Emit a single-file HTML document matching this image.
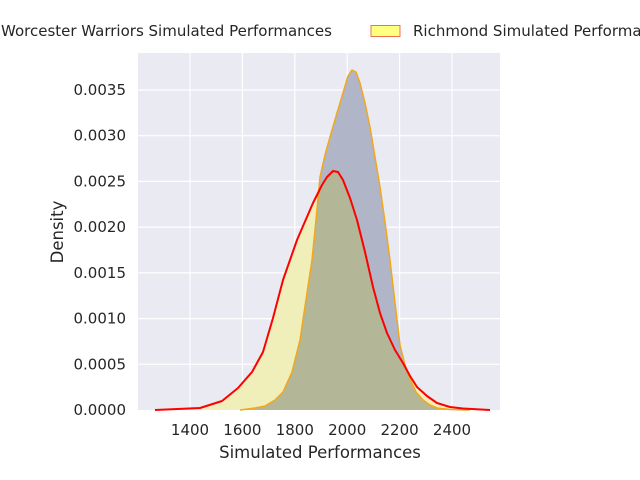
<!DOCTYPE html>
<html><head><style>body{margin:0;background:#fff}svg{display:block}text{font-family:"DejaVu Sans","Liberation Sans",sans-serif;fill:#262626}</style></head>
<body>
<svg width="640" height="480" viewBox="0 0 640 480">
<defs>
<clipPath id="cy"><path d="M155,410 L200,408 L222,401 L238,388 L252,372 L263,352 L273,318 L283,280 L297,240 L313,203 L322,185 L327,177 L333,171 L338,172 L343,180 L350,198 L357,220 L365,252 L373,287 L380,313 L387,333 L395,350 L403,363 L410,376 L417,387 L427,396 L437,403 L450,407 L463,408.5 L490,410 Z"/></clipPath>
</defs>
<rect x="138" y="53" width="362" height="357" fill="#eaeaf2"/>
<g stroke="#fff" stroke-width="1.2">
<line x1="190" y1="53" x2="190" y2="410"/><line x1="242.4" y1="53" x2="242.4" y2="410"/><line x1="294.8" y1="53" x2="294.8" y2="410"/><line x1="347.2" y1="53" x2="347.2" y2="410"/><line x1="399.6" y1="53" x2="399.6" y2="410"/><line x1="452" y1="53" x2="452" y2="410"/>
<line x1="138" y1="364.3" x2="500" y2="364.3"/><line x1="138" y1="318.6" x2="500" y2="318.6"/><line x1="138" y1="272.9" x2="500" y2="272.9"/><line x1="138" y1="227.1" x2="500" y2="227.1"/><line x1="138" y1="181.4" x2="500" y2="181.4"/><line x1="138" y1="135.7" x2="500" y2="135.7"/><line x1="138" y1="90" x2="500" y2="90"/>
</g>
<path d="M155,410 L200,408 L222,401 L238,388 L252,372 L263,352 L273,318 L283,280 L297,240 L313,203 L322,185 L327,177 L333,171 L338,172 L343,180 L350,198 L357,220 L365,252 L373,287 L380,313 L387,333 L395,350 L403,363 L410,376 L417,387 L427,396 L437,403 L450,407 L463,408.5 L490,410 Z" fill="#f0efb9"/>
<path d="M240,410 L255,408 L265,406 L275,400 L283,392 L292,372 L300,340 L307,293 L312,260 L316,220 L320,177 L325,155 L330,137 L337,113 L343,93 L348,76 L352,70 L356,72 L360,83 L365,103 L370,127 L375,157 L380,187 L385,222 L390,260 L395,303 L400,345 L405,365 L410,379 L416,392 L423,400 L430,405 L437,408 L450,409.5 L470,410 Z" fill="#b0b5c7"/>
<path d="M240,410 L255,408 L265,406 L275,400 L283,392 L292,372 L300,340 L307,293 L312,260 L316,220 L320,177 L325,155 L330,137 L337,113 L343,93 L348,76 L352,70 L356,72 L360,83 L365,103 L370,127 L375,157 L380,187 L385,222 L390,260 L395,303 L400,345 L405,365 L410,379 L416,392 L423,400 L430,405 L437,408 L450,409.5 L470,410 Z" fill="#b4b797" clip-path="url(#cy)"/>
<path d="M240,410 L255,408 L265,406 L275,400 L283,392 L292,372 L300,340 L307,293 L312,260 L316,220 L320,177 L325,155 L330,137 L337,113 L343,93 L348,76 L352,70 L356,72 L360,83 L365,103 L370,127 L375,157 L380,187 L385,222 L390,260 L395,303 L400,345 L405,365 L410,379 L416,392 L423,400 L430,405 L437,408 L450,409.5 L470,410" fill="none" stroke="#f2a71c" stroke-width="1.5" stroke-linejoin="round"/>
<path d="M155,410 L200,408 L222,401 L238,388 L252,372 L263,352 L273,318 L283,280 L297,240 L313,203 L322,185 L327,177 L333,171 L338,172 L343,180 L350,198 L357,220 L365,252 L373,287 L380,313 L387,333 L395,350 L403,363 L410,376 L417,387 L427,396 L437,403 L450,407 L463,408.5 L490,410" fill="none" stroke="#ff0000" stroke-width="2" stroke-linejoin="round"/>
<g font-size="15" text-anchor="middle">
<text x="190" y="435">1400</text><text x="242.4" y="435">1600</text><text x="294.8" y="435">1800</text><text x="347.2" y="435">2000</text><text x="399.6" y="435">2200</text><text x="452" y="435">2400</text>
</g>
<g font-size="15" text-anchor="end">
<text x="126" y="415">0.0000</text><text x="126" y="369.3">0.0005</text><text x="126" y="323.6">0.0010</text><text x="126" y="277.9">0.0015</text><text x="126" y="232.1">0.0020</text><text x="126" y="186.4">0.0025</text><text x="126" y="140.7">0.0030</text><text x="126" y="95">0.0035</text>
</g>
<text x="320" y="458" font-size="16.5" text-anchor="middle">Simulated Performances</text>
<text transform="translate(63,232) rotate(-90)" font-size="16.5" text-anchor="middle">Density</text>
<text x="1" y="36" font-size="15">Worcester Warriors Simulated Performances</text>
<rect x="371" y="25.5" width="29" height="11" fill="#ffff80" stroke="#f27050" stroke-width="1"/>
<text x="413" y="36" font-size="15">Richmond Simulated Performances</text>
</svg>
</body></html>
